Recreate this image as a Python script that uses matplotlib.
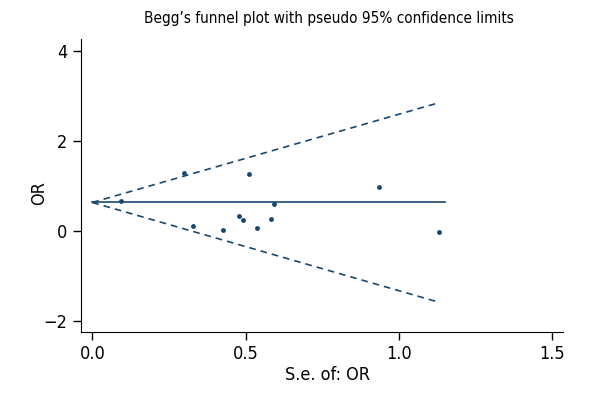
import numpy as np
import matplotlib
matplotlib.use("Agg")
import matplotlib.pyplot as plt

plt.rcParams['font.family'] = ['DejaVu Sans']
plt.rcParams['font.stretch'] = 'condensed'

# standard errors and log ORs
se = [0.092, 0.299, 0.510, 0.935, 0.592, 0.478, 0.490, 0.582, 0.327, 0.536, 0.426, 1.131]
log_or = [0.673, 1.296, 1.26, 0.978, 0.593, 0.333, 0.251, 0.26, 0.118, 0.06, 0.029, -0.015]
pooled = 0.638
line_end = 1.15

xticks = [0.0, 0.5, 1.0, 1.5]
yticks = [-2, 0, 2, 4]

navy = '#1a476f'


def funnel_plot():
    fig = plt.figure(figsize=(6, 4), dpi=100)
    ax = fig.add_axes([0.1345, 0.17, 0.8035, 0.7325])

    # pseudo 95% limits run out to the largest s.e.
    s = np.linspace(0, max(se), 50)
    ax.plot([0, line_end], [pooled, pooled], color=navy, lw=1.2)
    ax.plot(s, pooled + 1.96 * s, color=navy, lw=1.2, ls=(0, (4, 3)))
    ax.plot(s, pooled - 1.96 * s, color=navy, lw=1.2, ls=(0, (4, 3)))
    ax.plot(se, log_or, 'o', color=navy, ms=3.5, mec='none')

    ax.set_xlim(-0.038, 1.535)
    ax.set_ylim(-2.24, 4.27)
    ax.set_xticks(xticks)
    ax.set_xticklabels(['%.1f' % v for v in xticks])
    ax.set_yticks(yticks)
    ax.set_yticklabels([str(v).replace('-', '\u2212') for v in yticks])
    ax.spines['top'].set_visible(False)
    ax.spines['right'].set_visible(False)
    ax.tick_params(labelsize=13, length=6, width=1)
    ax.set_xlabel('S.e. of: OR', fontsize=13)
    ax.xaxis.set_label_coords(0.512, -0.115)
    ax.set_ylabel('OR', fontsize=13)
    ax.yaxis.set_label_coords(-0.068, 0.473)
    fig.text(0.548, 0.955, 'Begg\u2019s funnel plot with pseudo 95% confidence limits',
             ha='center', va='center', fontsize=11)
    fig.savefig('out.png', dpi=100)


funnel_plot()
